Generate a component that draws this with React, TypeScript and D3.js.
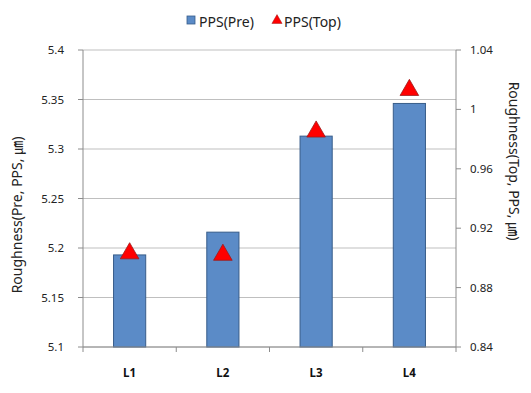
import React from 'react';
import * as d3 from 'd3';

const categories = ['L1', 'L2', 'L3', 'L4'];
const prePPS = [5.193, 5.216, 5.313, 5.346];
const topPPS = [0.903, 0.902, 0.985, 1.013];
const leftTicks = [5.1, 5.15, 5.2, 5.25, 5.3, 5.35, 5.4];
const rightTicks = [0.84, 0.88, 0.92, 0.96, 1.0, 1.04];

const W = 531;
const H = 393;
const m = { top: 50, right: 75, bottom: 46, left: 83 };
const font = '"Noto Sans", "Noto Sans CJK KR", sans-serif';

export default function App() {
  const x = d3.scaleBand<string>().domain(categories).range([m.left, W - m.right]).padding(0);
  const yL = d3.scaleLinear().domain([5.1, 5.4]).range([H - m.bottom, m.top]);
  const yR = d3.scaleLinear().domain([0.84, 1.04]).range([H - m.bottom, m.top]);
  const bw = x.bandwidth() * 0.345;
  const tri = d3.symbol().type(d3.symbolTriangle).size(150)();
  const x0 = m.left;
  const x1 = W - m.right;
  const yb = H - m.bottom;
  const fmt = (v: number) => String(+v.toFixed(2));

  return (
    <svg width={W} height={H} style={{ position: 'absolute', left: 0, top: 0, background: '#fff' }} fontFamily={font}>
      {/* gridlines */}
      {leftTicks.map(t => (
        <line key={'g' + t} x1={x0} x2={x1} y1={yL(t)} y2={yL(t)} stroke="#bfbfbf" strokeWidth={1} />
      ))}
      {/* bars */}
      {categories.map((c, i) => {
        const cx = x(c)! + x.bandwidth() / 2;
        return (
          <rect key={c} x={cx - bw / 2} y={yL(prePPS[i])} width={bw} height={yb - yL(prePPS[i])}
            fill="#5b8bc7" stroke="#385d8a" strokeWidth={1} />
        );
      })}
      {/* triangles */}
      {categories.map((c, i) => {
        const cx = x(c)! + x.bandwidth() / 2;
        return (
          <path key={'t' + c} d={tri!} transform={`translate(${cx},${yR(topPPS[i])})`}
            fill="#ff0000" stroke="#9b1c1c" strokeWidth={0.8} />
        );
      })}
      {/* axes */}
      <line x1={x0} x2={x0} y1={m.top} y2={yb} stroke="#8c8c8c" />
      <line x1={x1} x2={x1} y1={m.top} y2={yb} stroke="#8c8c8c" />
      <line x1={x0} x2={x1} y1={yb} y2={yb} stroke="#8c8c8c" />
      {leftTicks.map(t => (
        <g key={'l' + t}>
          <line x1={x0 - 5} x2={x0} y1={yL(t)} y2={yL(t)} stroke="#8c8c8c" />
          <text x={x0 - 19} y={yL(t)} dy="0.35em" textAnchor="end" fontSize={11.5} fill="#222">{fmt(t)}</text>
        </g>
      ))}
      {rightTicks.map(t => (
        <g key={'r' + t}>
          <line x1={x1} x2={x1 + 5} y1={yR(t)} y2={yR(t)} stroke="#8c8c8c" />
          <text x={x1 + 14} y={yR(t)} dy="0.35em" textAnchor="start" fontSize={11.5} fill="#222">{fmt(t)}</text>
        </g>
      ))}
      {x.domain().concat(['']).map((c, i) => {
        const xx = i < categories.length ? x(c)! : x1;
        return <line key={'xt' + i} x1={xx} x2={xx} y1={yb} y2={yb + 5} stroke="#8c8c8c" />;
      })}
      {categories.map(c => (
        <text key={'xl' + c} x={x(c)! + x.bandwidth() / 2} y={yb + 30} textAnchor="middle" fontSize={11.5} fontWeight="bold" fill="#111">{c}</text>
      ))}
      {/* axis titles */}
      <text transform="translate(22,215) rotate(-90)" textAnchor="middle" fontSize={14} fill="#222">Roughness(Pre, PPS, ㎛)</text>
      <text transform="translate(509,161) rotate(90)" textAnchor="middle" fontSize={14} fill="#222">Roughness(Top,  PPS, ㎛)</text>
      {/* legend */}
      <rect x={187} y={16} width={8} height={8} fill="#5b8bc7" stroke="#385d8a" strokeWidth={0.8} />
      <text x={199} y={27} fontSize={14} fill="#222">PPS(Pre)</text>
      <path d={d3.symbol().type(d3.symbolTriangle).size(45)()!} transform="translate(277,20.5)" fill="#ff0000" stroke="#9b1c1c" strokeWidth={0.5} />
      <text x={284} y={27} fontSize={14} fill="#222">PPS(Top)</text>
    </svg>
  );
}
